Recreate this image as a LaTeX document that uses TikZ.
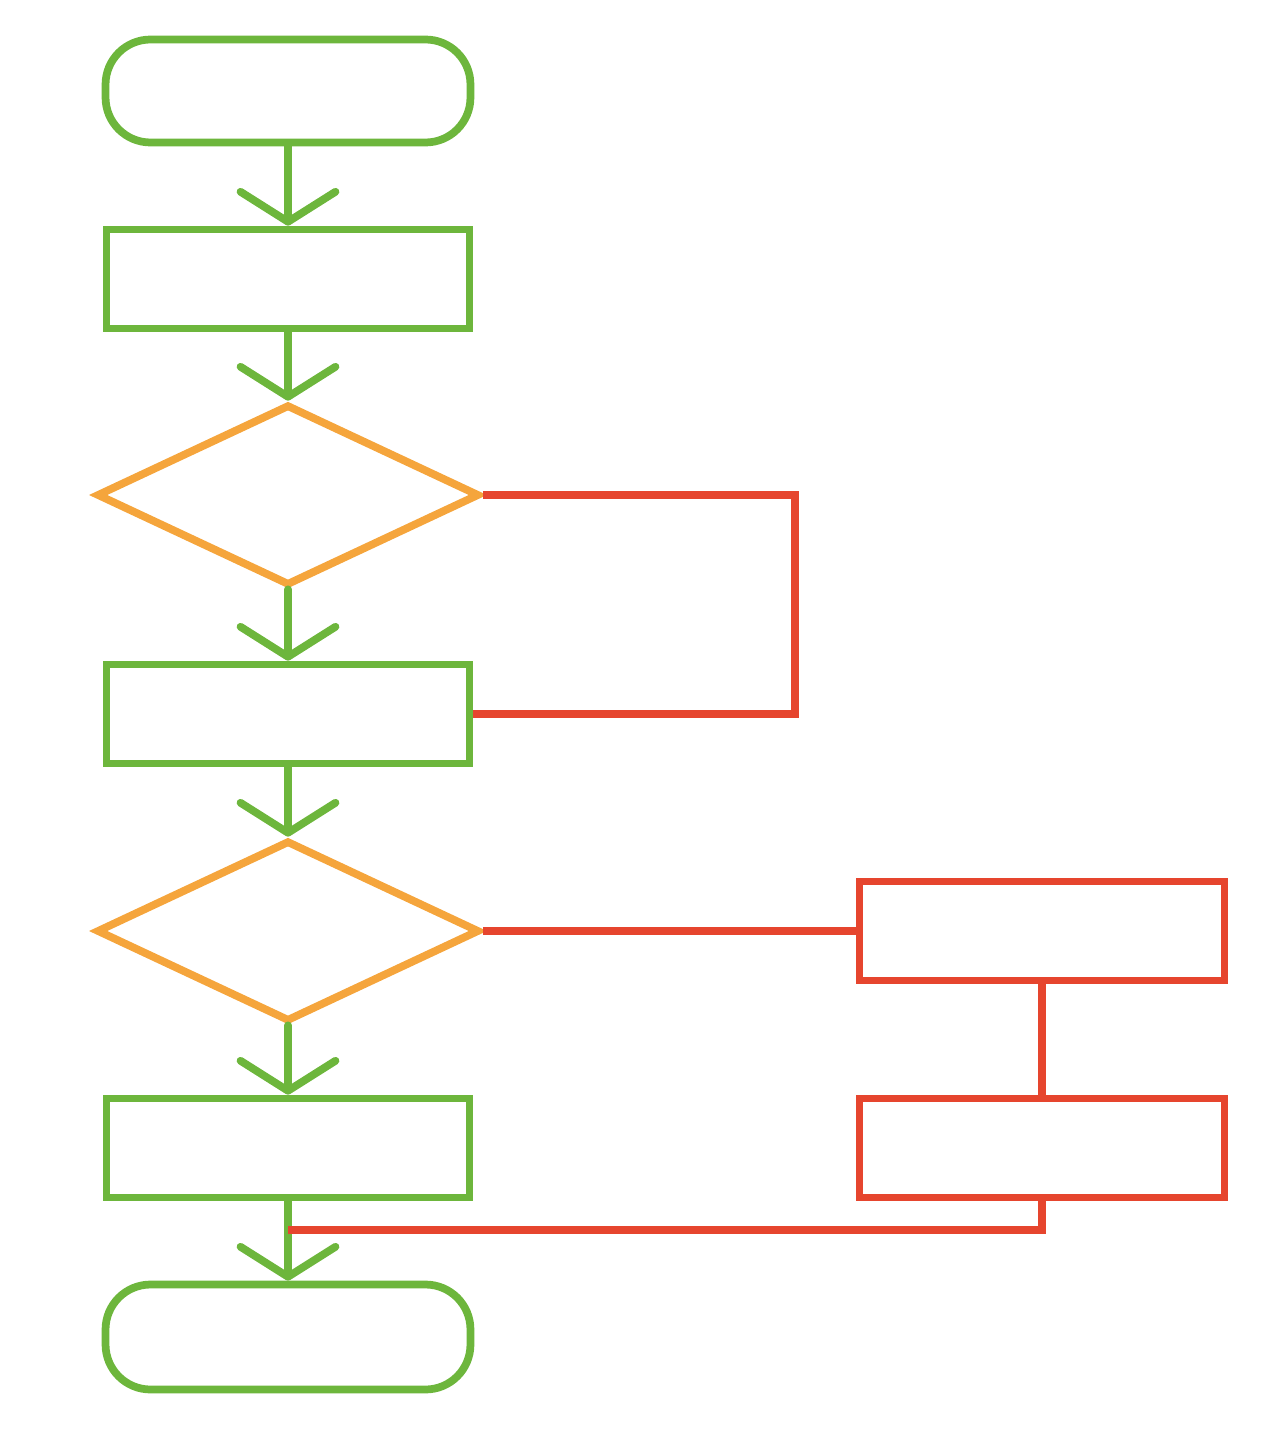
\documentclass[tikz,border=0pt]{standalone}
\usetikzlibrary{shapes.geometric,arrows.meta}
\definecolor{fgreen}{HTML}{6DB63C}
\definecolor{forange}{HTML}{F5A53C}
\definecolor{fred}{HTML}{E6452E}
\begin{document}
\begin{tikzpicture}[x=0.02cm,y=-0.02cm,line width=0.155cm,
  term/.style={draw=fgreen,rounded corners=0.9cm,minimum width=7.3cm,minimum height=2.06cm,inner sep=0pt},
  proc/.style={draw=fgreen,minimum width=7.26cm,minimum height=1.98cm,inner sep=0pt},
  redbox/.style={draw=fred,minimum width=7.3cm,minimum height=1.98cm,inner sep=0pt},
  dec/.style={draw=forange,diamond,minimum width=7.66cm,minimum height=3.62cm,inner sep=0pt},
  flow/.style={draw=fgreen,-{Straight Barb[length=0.6cm,width=1.9cm,round]},line cap=round},
  redline/.style={draw=fred}]
\useasboundingbox (0,0) rectangle (1280,1439);
\node[term] (start) at (288,91) {};
\node[proc] (r1) at (288,279) {};
\node[dec] (d1) at (288,495) {};
\node[proc] (r2) at (288,714) {};
\node[dec] (d2) at (288,931) {};
\node[proc] (r3) at (288,1148) {};
\node[term,minimum height=2.1cm] (end) at (288,1337) {};
\node[redbox] (ra) at (1042,931) {};
\node[redbox] (rb) at (1042,1148) {};
\coordinate (j) at (288,1230);
\coordinate (k) at (795,495);
\draw[flow] (start) -- (r1);
\draw[flow] (r1) -- (d1);
\draw[flow] (d1) -- (r2);
\draw[flow] (r2) -- (d2);
\draw[flow] (d2) -- (r3);
\draw[flow] (r3) -- (end);
\draw[redline] (d1.east) -- (k) |- (r2.east);
\draw[redline] (d2.east) -- (ra.west);
\draw[redline] (ra.south) -- (rb.north);
\draw[redline] (rb.south) |- (j);
\end{tikzpicture}
\end{document}
